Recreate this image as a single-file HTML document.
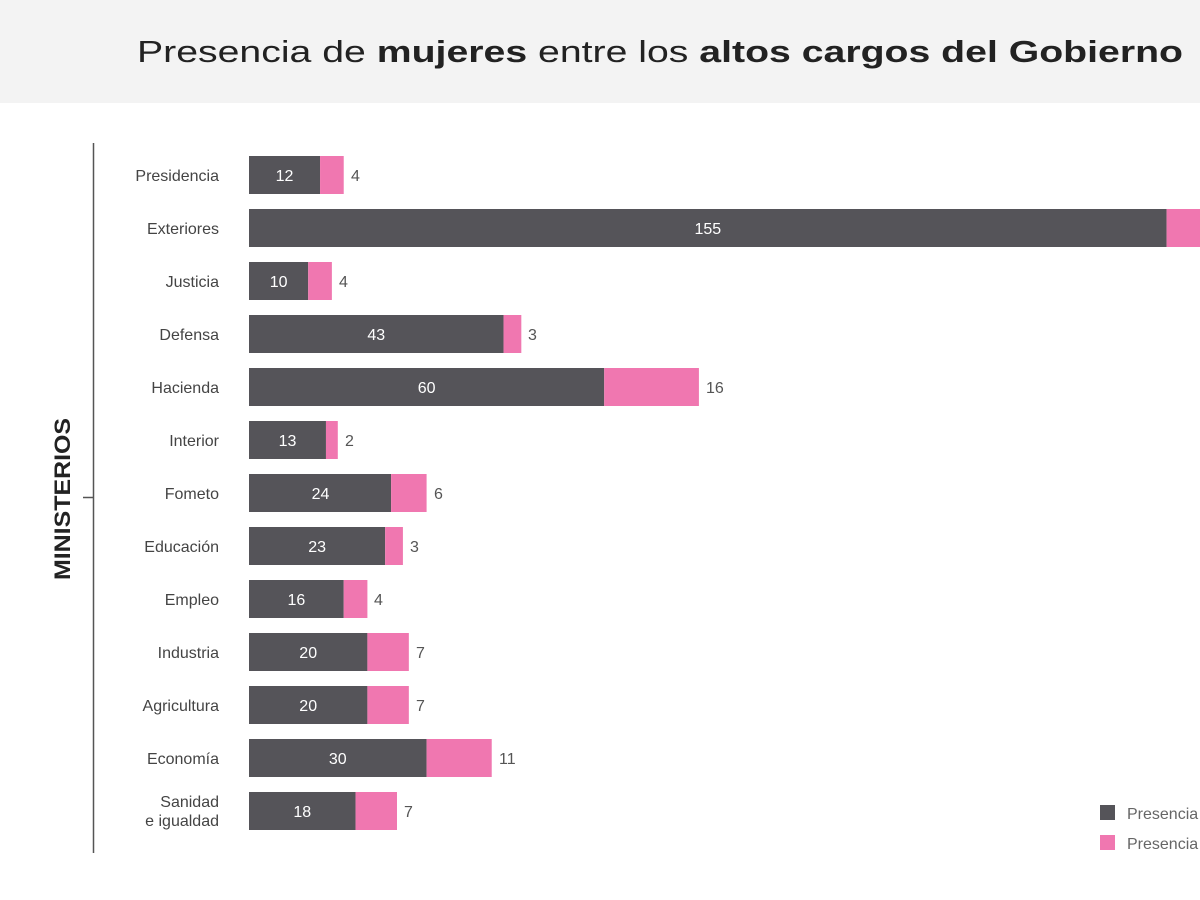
<!DOCTYPE html>
<html><head><meta charset="utf-8"><style>
html,body{margin:0;padding:0;background:#fff;width:1200px;height:900px;overflow:hidden}
</style></head><body>
<svg width="1200" height="900" xmlns="http://www.w3.org/2000/svg" font-family="Liberation Sans, sans-serif">
<rect x="0" y="0" width="1200" height="103" fill="#f3f3f3"/>
<text x="137" y="62" font-size="31" fill="#222" textLength="1046" lengthAdjust="spacingAndGlyphs">Presencia de <tspan font-weight="bold">mujeres</tspan> entre los <tspan font-weight="bold">altos cargos del Gobierno</tspan></text>
<line x1="93.5" y1="143" x2="93.5" y2="853" stroke="#555" stroke-width="1.5"/>
<line x1="83" y1="497.5" x2="94" y2="497.5" stroke="#555" stroke-width="1.5"/>
<text transform="translate(70,499) rotate(-90)" text-anchor="middle" font-size="22" font-weight="bold" fill="#222" textLength="162" lengthAdjust="spacingAndGlyphs">MINISTERIOS</text>
<g font-size="16" fill="#444" text-anchor="end">
<text x="219" y="181">Presidencia</text>
<text x="219" y="234">Exteriores</text>
<text x="219" y="287">Justicia</text>
<text x="219" y="340">Defensa</text>
<text x="219" y="393">Hacienda</text>
<text x="219" y="446">Interior</text>
<text x="219" y="499">Fometo</text>
<text x="219" y="552">Educación</text>
<text x="219" y="605">Empleo</text>
<text x="219" y="658">Industria</text>
<text x="219" y="711">Agricultura</text>
<text x="219" y="764">Economía</text>
<text x="219" y="807">Sanidad</text>
<text x="219" y="826">e igualdad</text>
</g>
<g fill="#555459">
<rect x="249" y="156" width="71.04" height="38"/>
<rect x="249" y="209" width="917.6" height="38"/>
<rect x="249" y="262" width="59.2" height="38"/>
<rect x="249" y="315" width="254.56" height="38"/>
<rect x="249" y="368" width="355.2" height="38"/>
<rect x="249" y="421" width="76.96" height="38"/>
<rect x="249" y="474" width="142.08" height="38"/>
<rect x="249" y="527" width="136.16" height="38"/>
<rect x="249" y="580" width="94.72" height="38"/>
<rect x="249" y="633" width="118.4" height="38"/>
<rect x="249" y="686" width="118.4" height="38"/>
<rect x="249" y="739" width="177.6" height="38"/>
<rect x="249" y="792" width="106.56" height="38"/>
</g>
<g fill="#f077b0">
<rect x="320.04" y="156" width="23.68" height="38"/>
<rect x="1166.6" y="209" width="94.72" height="38"/>
<rect x="308.2" y="262" width="23.68" height="38"/>
<rect x="503.56" y="315" width="17.76" height="38"/>
<rect x="604.2" y="368" width="94.72" height="38"/>
<rect x="325.96" y="421" width="11.84" height="38"/>
<rect x="391.08" y="474" width="35.52" height="38"/>
<rect x="385.16" y="527" width="17.76" height="38"/>
<rect x="343.72" y="580" width="23.68" height="38"/>
<rect x="367.4" y="633" width="41.44" height="38"/>
<rect x="367.4" y="686" width="41.44" height="38"/>
<rect x="426.6" y="739" width="65.12" height="38"/>
<rect x="355.56" y="792" width="41.44" height="38"/>
</g>
<g font-size="16" fill="#fff" text-anchor="middle">
<text x="284.5" y="181">12</text>
<text x="707.8" y="234">155</text>
<text x="278.6" y="287">10</text>
<text x="376.3" y="340">43</text>
<text x="426.6" y="393">60</text>
<text x="287.5" y="446">13</text>
<text x="320.5" y="499">24</text>
<text x="317.1" y="552">23</text>
<text x="296.4" y="605">16</text>
<text x="308.2" y="658">20</text>
<text x="308.2" y="711">20</text>
<text x="337.8" y="764">30</text>
<text x="302.3" y="817">18</text>
</g>
<g font-size="16" fill="#555">
<text x="351" y="181">4</text>
<text x="339" y="287">4</text>
<text x="528" y="340">3</text>
<text x="706" y="393">16</text>
<text x="345" y="446">2</text>
<text x="434" y="499">6</text>
<text x="410" y="552">3</text>
<text x="374" y="605">4</text>
<text x="416" y="658">7</text>
<text x="416" y="711">7</text>
<text x="499" y="764">11</text>
<text x="404" y="817">7</text>
</g>
<rect x="1100" y="805" width="15" height="15" fill="#555459"/>
<rect x="1100" y="835" width="15" height="15" fill="#f077b0"/>
<text x="1127" y="819" font-size="16" fill="#666">Presencia de hombres</text>
<text x="1127" y="849" font-size="16" fill="#666">Presencia de mujeres</text>
</svg>
</body></html>
